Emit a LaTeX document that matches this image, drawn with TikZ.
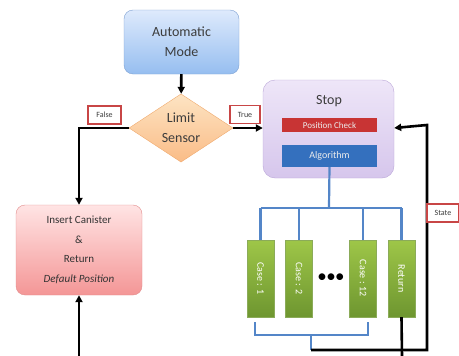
\documentclass[tikz,border=0pt]{standalone}
\usepackage{fontspec}
\setmainfont{Carlito}
\usepackage{tikz}
\usetikzlibrary{shapes,arrows,positioning,calc,arrows.meta}

\definecolor{bluetop}{RGB}{222,234,252}
\definecolor{bluebot}{RGB}{150,190,240}
\definecolor{blueedge}{RGB}{125,160,210}
\definecolor{orangetop}{RGB}{253,228,195}
\definecolor{orangebot}{RGB}{250,188,135}
\definecolor{orangeedge}{RGB}{240,170,110}
\definecolor{pinktop}{RGB}{255,228,228}
\definecolor{pinkbot}{RGB}{244,150,150}
\definecolor{pinkedge}{RGB}{225,140,140}
\definecolor{lavtop}{RGB}{238,230,248}
\definecolor{lavbot}{RGB}{214,198,236}
\definecolor{lavedge}{RGB}{185,165,215}
\definecolor{redbar}{RGB}{200,52,52}
\definecolor{bluebar}{RGB}{52,112,190}
\definecolor{greentop}{RGB}{158,198,72}
\definecolor{greenbot}{RGB}{110,150,48}
\definecolor{treeblue}{RGB}{84,134,200}
\definecolor{tagred}{RGB}{200,70,70}
\definecolor{txtgray}{RGB}{60,60,60}

\newcommand{\casetext}[1]{\rotatebox{-90}{#1}}

\begin{document}
\begin{tikzpicture}[x=1pt,y=-1pt,
    box/.style={rounded corners=9pt,inner sep=0,align=center,text=txtgray,font=\fontsize{14}{20}\selectfont},
    bar/.style={inner sep=0,minimum width=95,text=white!85!gray,font=\fontsize{9}{10}\selectfont},
    casebox/.style={inner sep=0,minimum width=27,minimum height=77,draw=greenbot!80,
        top color=greentop,bottom color=greenbot,text=white,font=\fontsize{10}{11}\selectfont},
    tag/.style={draw=tagred,line width=1.3pt,fill=white,inner sep=0,minimum height=18,
        text=txtgray,font=\fontsize{8}{9}\selectfont},
    blk/.style={line width=2.6pt,black},
    arr/.style={blk,-{Triangle[length=7pt,width=7pt]}},
    tree/.style={line width=2.2pt,treeblue}]
    \useasboundingbox (0,0) rectangle (459,356);

    % boxes
    \node[box,draw=blueedge,top color=bluetop,bottom color=bluebot,
        minimum width=115,minimum height=64] (auto) at (181.5,42) {Automatic\\Mode};
    \node[diamond,draw=orangeedge,top color=orangetop,bottom color=orangebot,inner sep=0,
        minimum width=104,minimum height=64,align=center,text=txtgray,
        font=\fontsize{14}{20}\selectfont] (limit) at (181,128) {Limit\\Sensor};
    \node[box,draw=pinkedge,top color=pinktop,bottom color=pinkbot,minimum width=126,
        minimum height=90,font=\fontsize{11}{19.5}\selectfont,text=black!80] (insert) at (79,250)
        {Insert Canister\\\&\\Return\\\textit{Default Position}};
    \node[box,rounded corners=12pt,draw=lavedge,top color=lavtop,bottom color=lavbot,
        minimum width=131,minimum height=98] (stop) at (328.5,129) {};
    \node[text=txtgray,font=\fontsize{14}{16}\selectfont] (stoptxt) at (329,101) {Stop};
    \node[bar,fill=redbar,minimum height=14] (poscheck) at (329.5,125) {Position Check};
    \node[bar,fill=bluebar,minimum height=22,font=\fontsize{10}{11}\selectfont] (algo) at (329.5,156) {Algorithm};

    % cases
    \node[casebox] (case1) at (260.5,278.5) {\casetext{Case : 1}};
    \node[casebox] (case2) at (299,278.5) {\casetext{Case : 2}};
    \node[casebox] (case12) at (363,278.5) {\casetext{Case : 12}};
    \node[casebox] (ret) at (401.5,278.5) {\casetext{Return}};
    \node[font=\fontsize{19}{19}\selectfont] (dots) at (331,278) {\textbullet\kern-0.5pt\textbullet\kern-0.5pt\textbullet};

    % tags
    \node[tag,minimum width=33] (false) at (104.5,115) {False};
    \node[tag,minimum width=30] (true) at (245,114.5) {True};

    % blue tree
    \coordinate (split) at (329,208);
    \draw[tree] (algo.south) -- (split);
    \draw[tree] (split -| case1.north) -- (split -| ret.north);
    \foreach \c in {case1,case2,case12,ret}
        \draw[tree] (split -| \c.north) -- (\c.north);
    \coordinate (brl) at (255,322);
    \coordinate (brr) at (368,322);
    \coordinate (merge) at (311,335);
    \draw[tree] (brl) -- (brl |- merge) -- (brr |- merge) -- (brr);
    \draw[tree] (merge) -- (311,350);

    % connectors
    \draw[arr] (auto) -- (limit);
    \draw[arr] (limit.west) -- (limit.west -| insert.north) -- (insert.north);
    \draw[arr] (limit.east) -- (limit.east -| stop.west);
    \coordinate (loopin) at (79,356);
    \draw[arr] (loopin) -- (insert.south);
    \coordinate (retout) at (402,356);
    \draw[blk] (ret.south) -- (retout);
    \coordinate (fbcorner) at (427,350);
    \draw[arr] (311,350) -- (fbcorner) -- (fbcorner |- poscheck.east) -- (stop.east |- 0,128);
    \node[tag,minimum width=32] (state) at (443,213) {State};
\end{tikzpicture}
\end{document}
